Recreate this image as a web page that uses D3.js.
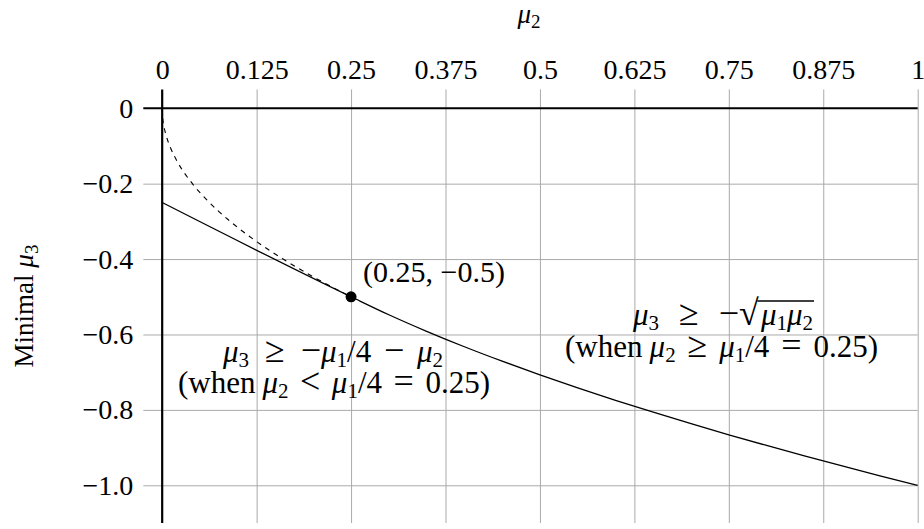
<!DOCTYPE html>
<html><head><meta charset="utf-8">
<script src="https://cdn.jsdelivr.net/npm/d3@7/dist/d3.min.js"></script>
<style>
body{margin:0;background:#fff;}
text{font-family:"Liberation Serif","DejaVu Serif",serif;fill:#000;}
</style></head>
<body><svg id="c" width="924" height="529"></svg>
<script>
// ---- data ----
const xTicks = [0, 0.125, 0.25, 0.375, 0.5, 0.625, 0.75, 0.875, 1];
const xTickLabels = ["0", "0.125", "0.25", "0.375", "0.5", "0.625", "0.75", "0.875", "1"];
const yTicks = [0, -0.2, -0.4, -0.6, -0.8, -1.0];
const yTickLabels = ["0", "\u22120.2", "\u22120.4", "\u22120.6", "\u22120.8", "\u22121.0"];
// lower branch: mu3 = -mu1/4 - mu2 (mu2 < 0.25)
const linearX = [0, 0.25];
const linearY = [-0.25, -0.5];
// upper branch: mu3 = -sqrt(mu1 mu2) (mu2 >= 0.25)
const sqrtX = [0.25, 0.3, 0.35, 0.4, 0.45, 0.5, 0.55, 0.6, 0.65, 0.7, 0.75, 0.8, 0.85, 0.9, 0.95, 1];
const sqrtY = [-0.5, -0.5477, -0.5916, -0.6325, -0.6708, -0.7071, -0.7416, -0.7746, -0.8062, -0.8367, -0.8660, -0.8944, -0.9220, -0.9487, -0.9747, -1.0];
// dashed continuation of -sqrt for mu2 < 0.25
const dashX = [0, 0.001, 0.0025, 0.005, 0.01, 0.02, 0.04, 0.06, 0.09, 0.12, 0.16, 0.2, 0.25];
const dashY = [0, -0.0316, -0.05, -0.0707, -0.1, -0.1414, -0.2, -0.2449, -0.3, -0.3464, -0.4, -0.4472, -0.5];
const pointX = [0.25];
const pointY = [-0.5];

// ---- chart ----
const svg = d3.select("#c");
const x = d3.scaleLinear().domain([-0.025, 1]).range([143.3, 917.7]);
const y = d3.scaleLinear().domain([0.05, -1.1]).range([89.4, 523]);
const FS = 28;
const FA = 31;
const FR = 36;   // relation / operator symbols
const SUB = 21;
const SUBDY = 5;

// grid
const gx = svg.append("g").attr("transform", `translate(0,${y(-1.1)})`)
  .call(d3.axisBottom(x).tickValues(xTicks.filter(d => d !== 0)).tickSize(-(y(-1.1) - y(0.05))).tickFormat(""));
gx.select(".domain").remove();
gx.selectAll("line").attr("stroke", "#aaaaaa").attr("stroke-width", 1);
const gy = svg.append("g").attr("transform", `translate(${x(-0.025)},0)`)
  .call(d3.axisLeft(y).tickValues(yTicks.filter(d => d !== 0)).tickSize(-(x(1) - x(-0.025))).tickFormat(""));
gy.select(".domain").remove();
gy.selectAll("line").attr("stroke", "#aaaaaa").attr("stroke-width", 1);

// axis lines
svg.append("line").attr("x1", x(-0.025)).attr("x2", x(1)).attr("y1", y(0)).attr("y2", y(0))
  .attr("stroke", "#000").attr("stroke-width", 2.2);
svg.append("line").attr("x1", x(0)).attr("x2", x(0)).attr("y1", y(0.05)).attr("y2", y(-1.1))
  .attr("stroke", "#000").attr("stroke-width", 2.2);

// tick labels
const xa = svg.append("g").attr("transform", `translate(0,${y(0.05) - 10})`)
  .call(d3.axisTop(x).tickValues(xTicks).tickSize(0).tickPadding(0).tickFormat((d, i) => xTickLabels[i]));
xa.select(".domain").remove();
xa.selectAll("text").style("font-size", FS + "px").style("font-family", "Liberation Serif, serif");
const ya = svg.append("g").attr("transform", `translate(${x(-0.025) - 10},0)`)
  .call(d3.axisLeft(y).tickValues(yTicks).tickSize(0).tickPadding(0).tickFormat((d, i) => yTickLabels[i]));
ya.select(".domain").remove();
ya.selectAll("text").style("font-size", FS + "px").style("font-family", "Liberation Serif, serif");

// curves
const line = d3.line().x(d => x(d[0])).y(d => y(d[1])).curve(d3.curveMonotoneX);
svg.append("path").datum(dashX.map((d, i) => [d, dashY[i]])).attr("d", line)
  .attr("fill", "none").attr("stroke", "#000").attr("stroke-width", 1.1).attr("stroke-dasharray", "5,5");
svg.append("path").datum(linearX.map((d, i) => [d, linearY[i]]).concat(sqrtX.slice(1).map((d, i) => [d, sqrtY[i + 1]])))
  .attr("d", line).attr("fill", "none").attr("stroke", "#000").attr("stroke-width", 1.3);
svg.selectAll("circle.pt").data(pointX).join("circle").attr("class", "pt")
  .attr("cx", d => x(d)).attr("cy", (d, i) => y(pointY[i])).attr("r", 5.5).attr("fill", "#000");

// rich text helper: parts = [text, style, gapWeight]; style: 'n' normal, 'i' italic, 's' subscript, 'r' relation
// gaps are widened so the whole text reaches the target width (math spacing)
function rich(parent, xp, yp, parts, anchor, width, fs, sub0) {
  const t = parent.append("text").attr("x", xp).attr("y", yp).attr("text-anchor", anchor || "middle")
    .style("font-size", (fs || FA) + "px");
  const subSize = sub0 || SUB;
  let sub = false;
  const gaps = [];
  parts.forEach(([s, st, g]) => {
    const ts = t.append("tspan").text(s);
    if (st === "i") ts.style("font-style", "italic");
    if (st === "r") ts.style("font-size", FR + "px");
    if (st === "s") { ts.style("font-size", subSize + "px"); if (!sub) { ts.attr("dy", SUBDY); sub = true; } }
    else if (sub) { ts.attr("dy", -SUBDY); sub = false; }
    if (g) gaps.push([ts, g]);
  });
  if (sub) t.append("tspan").attr("dy", -SUBDY).text("");
  if (width && gaps.length) {
    const w = t.node().getComputedTextLength();
    const tot = d3.sum(gaps, d => d[1]);
    const u = Math.max(0, (width - w) / tot);
    gaps.forEach(([ts, g]) => ts.attr("dx", g * u));
  }
  return t;
}

// axis titles
rich(svg, 529, 23, [["\u03bc", "i"], ["2", "s"]], "middle", 0, 27, 19);
const ylg = svg.append("g").attr("transform", `translate(33,306) rotate(-90)`);
rich(ylg, 0, 0, [["Minimal ", "n"], ["\u03bc", "i"], ["3", "s"]], "middle", 0, 27, 19);

// annotations
rich(svg, 363, 282, [["(0.25, \u22120.5)", "n"]], "start", 0, 30);
rich(svg, 333, 362, [["\u03bc", "i"], ["3", "s"], ["\u2265", "r", 5], ["\u2212", "r", 5], ["\u03bc", "i"], ["1", "s"], ["/4", "n"], ["\u2212", "r", 4], ["\u03bc", "i", 4], ["2", "s"]], "middle", 220);
rich(svg, 334, 393, [["(when", "n"], ["\u03bc", "i", 3], ["2", "s"], ["<", "r", 5], ["\u03bc", "i", 5], ["1", "s"], ["/4", "n"], ["=", "r", 5], ["0.25)", "n", 5]], "middle", 312);
const sq = rich(svg, 723, 325, [["\u03bc", "i"], ["3", "s"], ["\u2265", "r", 5], ["\u2212", "r", 5], ["\u221a", "r"], ["\u03bc", "i", 0.5], ["1", "s"], ["\u03bc", "i"], ["2", "s"]], "middle", 180);
// overline over the radicand
(function () {
  const node = sq.node();
  const full = node.textContent;
  const i0 = full.indexOf("\u221a");
  const p0 = node.getEndPositionOfChar(i0);
  const p1 = node.getEndPositionOfChar(full.length - 1);
  svg.append("line").attr("x1", p0.x - 1.5).attr("x2", p1.x + 1).attr("y1", 325 - 24).attr("y2", 325 - 24)
    .attr("stroke", "#000").attr("stroke-width", 1.4);
})();
rich(svg, 721.5, 357, [["(when", "n"], ["\u03bc", "i", 3], ["2", "s"], ["\u2265", "r", 5], ["\u03bc", "i", 5], ["1", "s"], ["/4", "n"], ["=", "r", 5], ["0.25)", "n", 5]], "middle", 313);
</script></body></html>
